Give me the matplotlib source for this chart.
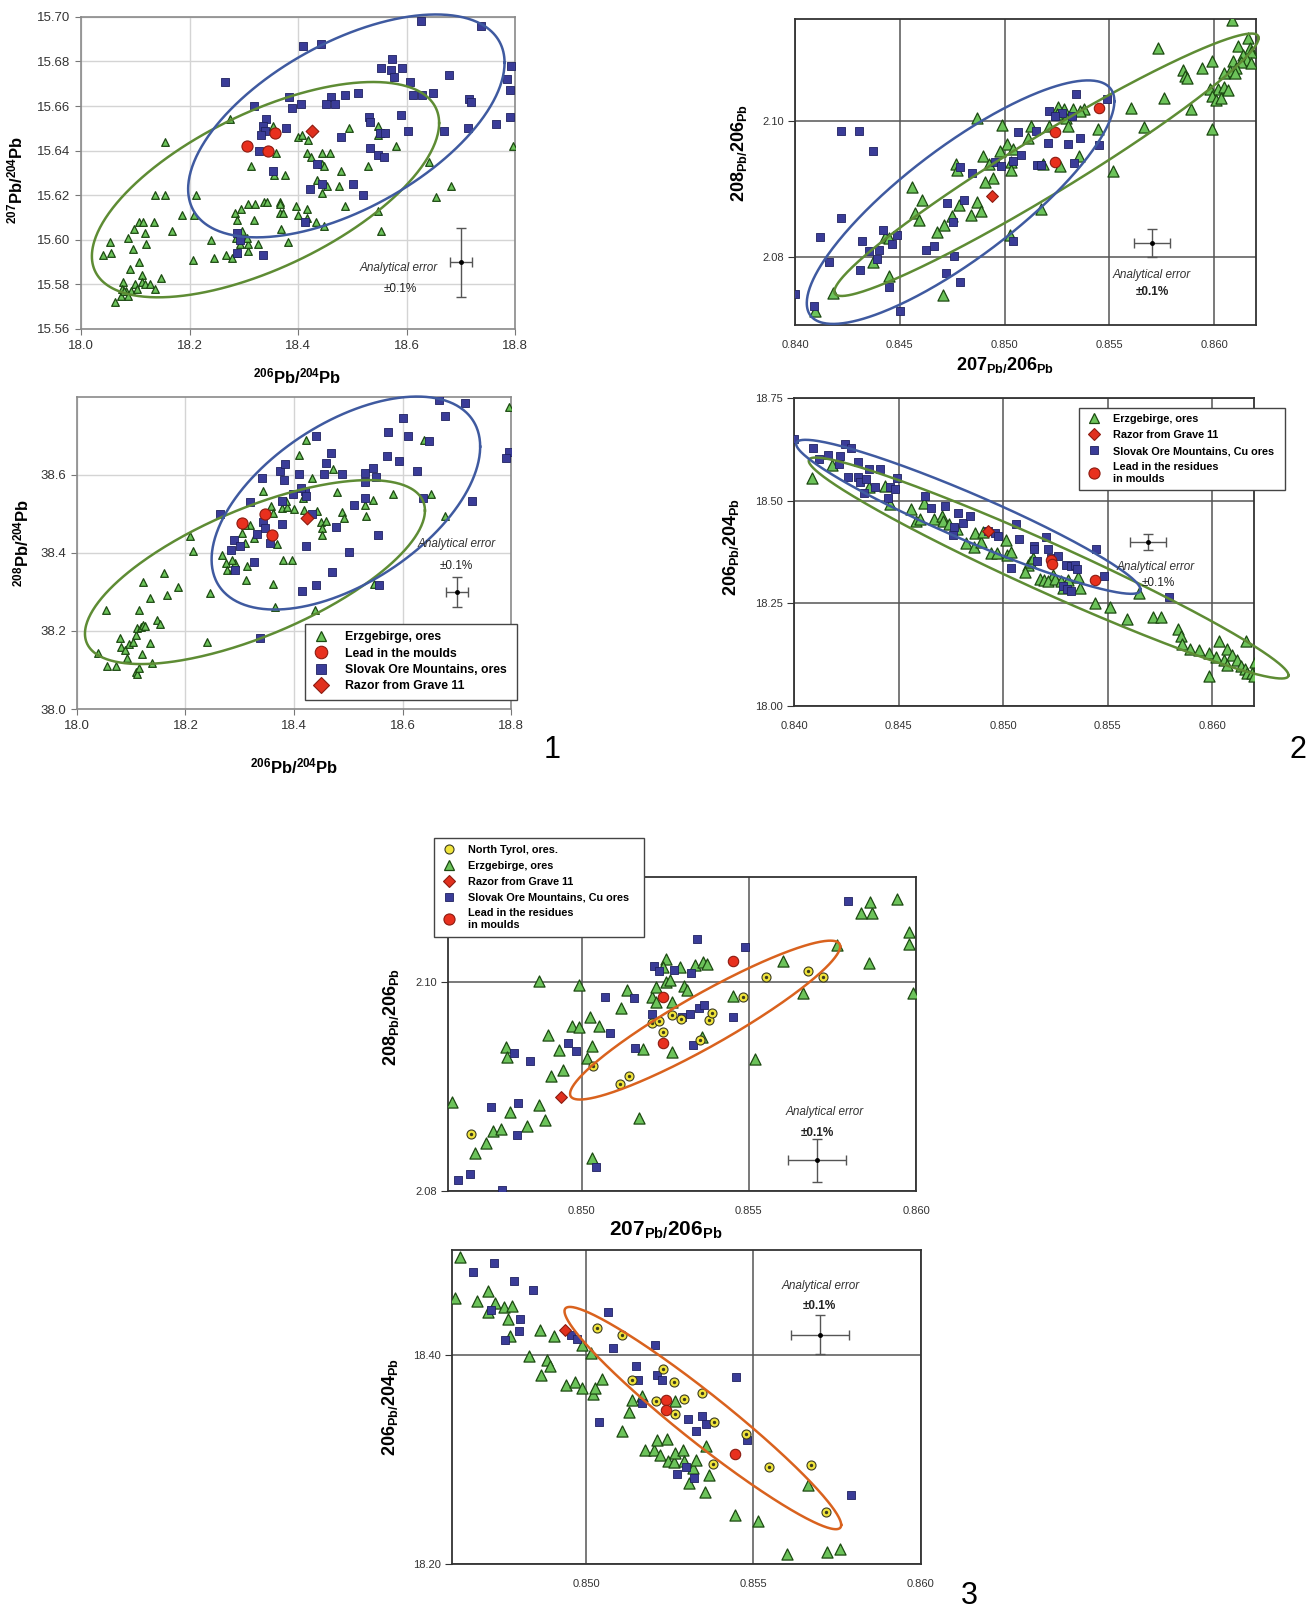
import numpy as np
import matplotlib.pyplot as plt
from matplotlib.lines import Line2D

plt.rcParams['font.family'] = ['Liberation Sans', 'DejaVu Sans']
plt.rcParams['mathtext.fontset'] = 'custom'
plt.rcParams['mathtext.rm'] = 'Liberation Sans'
plt.rcParams['mathtext.bf'] = 'Liberation Sans:bold'
plt.rcParams['mathtext.it'] = 'Liberation Sans:italic'

# ---------------- data: panel 1a (206/204 vs 207/204) ----------------
p1a_erz_x = [18.274, 18.353, 18.360, 18.313, 18.356, 18.376, 18.154, 18.445, 18.459, 18.581, 18.796, 18.494,
             18.548, 18.548, 18.400, 18.407, 18.419, 18.416, 18.424, 18.445, 18.447, 18.434, 18.445, 18.454,
             18.476, 18.480, 18.528, 18.487, 18.548, 18.553, 18.654, 18.681, 18.642, 18.136, 18.155, 18.212,
             18.187, 18.209, 18.168, 18.240, 18.245, 18.267, 18.279, 18.284, 18.287, 18.294, 18.308, 18.318,
             18.320, 18.337, 18.343, 18.366, 18.366, 18.366, 18.373, 18.369, 18.381, 18.396, 18.400, 18.417,
             18.417, 18.433, 18.447, 18.327, 18.308, 18.293, 18.288, 18.286, 18.296, 18.307, 18.305, 18.207,
             18.040, 18.053, 18.055, 18.086, 18.097, 18.107, 18.114, 18.118, 18.119, 18.134, 18.095, 18.106,
             18.090, 18.078, 18.076, 18.074, 18.082, 18.093, 18.100, 18.103, 18.113, 18.113, 18.117, 18.128,
             18.136, 18.148, 18.062, 18.080, 18.087]
p1a_erz_y = [15.654, 15.651, 15.639, 15.633, 15.629, 15.629, 15.644, 15.639, 15.639, 15.642, 15.642, 15.650,
             15.651, 15.647, 15.646, 15.647, 15.645, 15.639, 15.637, 15.634, 15.633, 15.627, 15.621, 15.624,
             15.624, 15.631, 15.633, 15.615, 15.613, 15.604, 15.619, 15.624, 15.635, 15.620, 15.620, 15.620,
             15.611, 15.611, 15.604, 15.600, 15.592, 15.593, 15.592, 15.612, 15.609, 15.614, 15.616, 15.609,
             15.616, 15.617, 15.617, 15.617, 15.616, 15.612, 15.612, 15.605, 15.599, 15.615, 15.611, 15.610,
             15.614, 15.608, 15.606, 15.598, 15.595, 15.598, 15.594, 15.601, 15.604, 15.598, 15.601, 15.591,
             15.593, 15.599, 15.594, 15.601, 15.605, 15.608, 15.608, 15.603, 15.598, 15.608, 15.596, 15.590,
             15.587, 15.581, 15.578, 15.575, 15.577, 15.577, 15.580, 15.578, 15.584, 15.581, 15.580, 15.580,
             15.578, 15.583, 15.572, 15.577, 15.575]
p1a_slov_x = [18.265, 18.319, 18.409, 18.442, 18.626, 18.737, 18.553, 18.573, 18.572, 18.576, 18.592, 18.606,
              18.611, 18.628, 18.649, 18.679, 18.793, 18.786, 18.791, 18.791, 18.765, 18.713, 18.715, 18.718,
              18.669, 18.602, 18.589, 18.511, 18.487, 18.461, 18.469, 18.451, 18.383, 18.388, 18.406, 18.377,
              18.341, 18.335, 18.339, 18.331, 18.328, 18.354, 18.531, 18.533, 18.551, 18.561, 18.532, 18.548,
              18.558, 18.479, 18.435, 18.422, 18.445, 18.501, 18.520, 18.413, 18.288, 18.293, 18.287, 18.336]
p1a_slov_y = [15.671, 15.660, 15.687, 15.688, 15.698, 15.696, 15.677, 15.681, 15.676, 15.673, 15.677, 15.671,
              15.665, 15.665, 15.666, 15.674, 15.678, 15.672, 15.667, 15.655, 15.652, 15.650, 15.663, 15.662,
              15.649, 15.649, 15.656, 15.666, 15.665, 15.664, 15.661, 15.661, 15.664, 15.659, 15.661, 15.650,
              15.654, 15.651, 15.649, 15.647, 15.640, 15.631, 15.655, 15.653, 15.648, 15.648, 15.641, 15.638,
              15.637, 15.646, 15.634, 15.623, 15.625, 15.625, 15.620, 15.608, 15.603, 15.600, 15.594, 15.593]
p1a_mould_x = [18.305, 18.345, 18.357]
p1a_mould_y = [15.642, 15.640, 15.648]
p1a_razor_x = [18.425]
p1a_razor_y = [15.649]

# ---------------- data: panel 1b (206/204 vs 208/204) ----------------
p1b_erz_x = [18.796, 18.423, 18.639, 18.409, 18.472, 18.434, 18.343, 18.357, 18.377, 18.388, 18.385, 18.417,
             18.479, 18.582, 18.653, 18.545, 18.531, 18.533, 18.488, 18.492, 18.442, 18.449, 18.452, 18.459,
             18.451, 18.418, 18.400, 18.362, 18.368, 18.326, 18.319, 18.309, 18.305, 18.310, 18.313, 18.311,
             18.268, 18.274, 18.277, 18.288, 18.291, 18.285, 18.361, 18.380, 18.397, 18.365, 18.439, 18.678,
             18.548, 18.209, 18.214, 18.245, 18.239, 18.186, 18.166, 18.160, 18.135, 18.121, 18.114, 18.147,
             18.153, 18.053, 18.039, 18.056, 18.072, 18.080, 18.082, 18.089, 18.093, 18.096, 18.103, 18.109,
             18.111, 18.118, 18.122, 18.126, 18.135, 18.138, 18.120, 18.109, 18.111, 18.114]
p1b_erz_y = [38.773, 38.690, 38.690, 38.651, 38.616, 38.593, 38.560, 38.521, 38.515, 38.518, 38.533, 38.542,
             38.557, 38.552, 38.552, 38.537, 38.524, 38.496, 38.504, 38.489, 38.507, 38.479, 38.464, 38.481,
             38.445, 38.511, 38.512, 38.503, 38.423, 38.438, 38.472, 38.472, 38.450, 38.425, 38.367, 38.330,
             38.396, 38.374, 38.356, 38.359, 38.374, 38.382, 38.320, 38.381, 38.382, 38.262, 38.253, 38.494,
             38.321, 38.443, 38.405, 38.297, 38.171, 38.313, 38.292, 38.348, 38.284, 38.325, 38.254, 38.229,
             38.218, 38.253, 38.143, 38.109, 38.111, 38.181, 38.160, 38.150, 38.130, 38.166, 38.173, 38.190,
             38.207, 38.211, 38.215, 38.212, 38.170, 38.119, 38.140, 38.094, 38.090, 38.104]
p1b_slov_x = [18.668, 18.715, 18.678, 18.600, 18.574, 18.611, 18.648, 18.797, 18.791, 18.441, 18.468, 18.459,
              18.572, 18.594, 18.627, 18.728, 18.638, 18.546, 18.551, 18.531, 18.531, 18.531, 18.511, 18.488,
              18.455, 18.410, 18.382, 18.374, 18.383, 18.341, 18.319, 18.342, 18.347, 18.332, 18.289, 18.284,
              18.291, 18.326, 18.378, 18.378, 18.421, 18.413, 18.422, 18.399, 18.434, 18.422, 18.478, 18.502,
              18.470, 18.441, 18.414, 18.555, 18.557, 18.337, 18.264, 18.355, 18.301]
p1b_slov_y = [38.791, 38.785, 38.751, 38.745, 38.709, 38.699, 38.687, 38.658, 38.643, 38.700, 38.656, 38.631,
              38.649, 38.637, 38.609, 38.532, 38.541, 38.617, 38.596, 38.604, 38.582, 38.542, 38.522, 38.602,
              38.603, 38.603, 38.586, 38.609, 38.629, 38.592, 38.530, 38.479, 38.463, 38.449, 38.432, 38.408,
              38.356, 38.378, 38.474, 38.534, 38.559, 38.566, 38.547, 38.552, 38.500, 38.417, 38.467, 38.403,
              38.352, 38.317, 38.303, 38.445, 38.317, 38.181, 38.499, 38.425, 38.419]
p1b_mould_x = [18.305, 18.346, 18.360]
p1b_mould_y = [38.477, 38.501, 38.445]
p1b_razor_x = [18.424]
p1b_razor_y = [38.489]

# ---------------- data: panel 2a (207/206 vs 208/206) ----------------
p2a_erz_x = [0.86084, 0.85731, 0.86163, 0.86115, 0.86173, 0.86176, 0.86139, 0.86158, 0.86130, 0.86176, 0.86089,
             0.86106, 0.86074, 0.86098, 0.86046, 0.85991, 0.85944, 0.85851, 0.85861, 0.85870, 0.85981, 0.86019,
             0.86046, 0.85991, 0.86009, 0.86032, 0.86065, 0.85762, 0.85889, 0.85991, 0.85666, 0.85601, 0.85517,
             0.85448, 0.85378, 0.85328, 0.85359, 0.85285, 0.85257, 0.85294, 0.85304, 0.85211, 0.85248, 0.85127,
             0.85112, 0.85183, 0.85356, 0.85266, 0.85012, 0.84988, 0.84979, 0.85040, 0.85032, 0.85029, 0.84945,
             0.84908, 0.84895, 0.84928, 0.84769, 0.84774, 0.84869, 0.84557, 0.84605, 0.84572, 0.84591, 0.84678,
             0.84709, 0.84750, 0.84784, 0.84839, 0.84867, 0.84886, 0.85025, 0.85174, 0.84427, 0.84449, 0.84371,
             0.84446, 0.84180, 0.84708, 0.84093]
p2a_erz_y = [2.11481, 2.11078, 2.11223, 2.11102, 2.11078, 2.11019, 2.10971, 2.10898, 2.10874, 2.10859, 2.10883,
             2.10777, 2.10738, 2.10704, 2.10704, 2.10883, 2.10786, 2.10752, 2.10655, 2.10631, 2.10476, 2.10476,
             2.10495, 2.10364, 2.10316, 2.10340, 2.10461, 2.10340, 2.10170, 2.09879, 2.09913, 2.10194, 2.09262,
             2.09879, 2.10170, 2.10170, 2.10146, 2.10170, 2.10204, 2.10039, 2.09927, 2.09927, 2.10097, 2.09927,
             2.09757, 2.09369, 2.09490, 2.09345, 2.09660, 2.09942, 2.09563, 2.09587, 2.09393, 2.09272, 2.09165,
             2.09107, 2.09490, 2.09369, 2.09369, 2.09272, 2.10049, 2.09029, 2.08845, 2.08641, 2.08544, 2.08364,
             2.08466, 2.08602, 2.08762, 2.08617, 2.08811, 2.08670, 2.08325, 2.08699, 2.08291, 2.08272, 2.07932,
             2.07718, 2.07476, 2.07447, 2.07209]
p2a_slov_x = [0.84000, 0.84091, 0.84119, 0.84162, 0.84219, 0.84219, 0.84306, 0.84370, 0.84319, 0.84310, 0.84351,
              0.84390, 0.84403, 0.84418, 0.84464, 0.84487, 0.84446, 0.84500, 0.84626, 0.84663, 0.84724, 0.84758,
              0.84721, 0.84752, 0.84786, 0.84804, 0.84787, 0.84843, 0.84956, 0.84981, 0.85038, 0.85066, 0.85079,
              0.85040, 0.85157, 0.85174, 0.85207, 0.85214, 0.85150, 0.85272, 0.85302, 0.85324, 0.85333, 0.85343,
              0.85361, 0.85452, 0.85487, 0.85242]
p2a_slov_y = [2.07451, 2.07272, 2.08291, 2.07927, 2.08578, 2.09854, 2.09854, 2.09553, 2.08238, 2.07801, 2.08083,
              2.07971, 2.08107, 2.08398, 2.08189, 2.08330, 2.07563, 2.07209, 2.08107, 2.08155, 2.08796, 2.08010,
              2.07757, 2.08519, 2.07631, 2.08845, 2.09320, 2.09238, 2.09403, 2.09335, 2.09417, 2.09840, 2.09505,
              2.08228, 2.09359, 2.09354, 2.09670, 2.10146, 2.09854, 2.10121, 2.09660, 2.10068, 2.09383, 2.10398,
              2.09757, 2.09650, 2.10325, 2.10078]
p2a_mould_x = [0.85242, 0.85239, 0.85452]
p2a_mould_y = [2.09840, 2.09403, 2.10189]
p2a_razor_x = [0.84940]
p2a_razor_y = [2.08893]

# ---------------- data: panel 2b (207/206 vs 206/204) ----------------
p2b_erz_x = [0.84085, 0.84180, 0.84361, 0.84435, 0.84457, 0.84561, 0.84620, 0.84583, 0.84602, 0.84672, 0.84707,
             0.84713, 0.84743, 0.84781, 0.84824, 0.84865, 0.84863, 0.84894, 0.84904, 0.84941, 0.84969, 0.85013,
             0.85020, 0.85039, 0.85120, 0.85130, 0.85143, 0.85107, 0.85176, 0.85198, 0.85239, 0.85213, 0.85250,
             0.85278, 0.85287, 0.85311, 0.85357, 0.85369, 0.85439, 0.85513, 0.85593, 0.85717, 0.85754, 0.85835,
             0.85852, 0.85857, 0.85894, 0.85935, 0.85983, 0.85987, 0.86031, 0.86019, 0.86059, 0.86072, 0.86093,
             0.86120, 0.86139, 0.86157, 0.86161, 0.86167, 0.86191, 0.86207, 0.86200, 0.86070, 0.85652]
p2b_erz_y = [18.555, 18.586, 18.533, 18.536, 18.491, 18.479, 18.493, 18.450, 18.456, 18.456, 18.462, 18.450,
             18.444, 18.431, 18.397, 18.420, 18.387, 18.399, 18.423, 18.373, 18.373, 18.405, 18.368, 18.375,
             18.343, 18.350, 18.360, 18.327, 18.309, 18.307, 18.320, 18.303, 18.309, 18.303, 18.288, 18.307,
             18.315, 18.286, 18.250, 18.242, 18.211, 18.216, 18.216, 18.188, 18.170, 18.152, 18.139, 18.135,
             18.128, 18.073, 18.159, 18.120, 18.112, 18.138, 18.123, 18.113, 18.097, 18.090, 18.157, 18.079,
             18.079, 18.108, 18.073, 18.099, 18.276]
p2b_slov_x = [0.84000, 0.84089, 0.84119, 0.84161, 0.84219, 0.84217, 0.84243, 0.84274, 0.84259, 0.84306, 0.84306,
              0.84315, 0.84346, 0.84333, 0.84361, 0.84389, 0.84411, 0.84450, 0.84457, 0.84485, 0.84494, 0.84626,
              0.84657, 0.84722, 0.84763, 0.84783, 0.84806, 0.84843, 0.84926, 0.84963, 0.84978, 0.85061, 0.85076,
              0.85039, 0.85148, 0.85150, 0.85163, 0.85207, 0.85213, 0.85228, 0.85263, 0.85287, 0.85300, 0.85324,
              0.85343, 0.85356, 0.85306, 0.85324, 0.85444, 0.85481, 0.85793, 0.84759]
p2b_slov_y = [18.650, 18.629, 18.602, 18.612, 18.608, 18.589, 18.637, 18.627, 18.558, 18.558, 18.594, 18.546,
              18.552, 18.519, 18.578, 18.534, 18.576, 18.506, 18.532, 18.529, 18.554, 18.511, 18.481, 18.488,
              18.436, 18.470, 18.446, 18.462, 18.426, 18.420, 18.415, 18.443, 18.407, 18.336, 18.389, 18.381,
              18.352, 18.412, 18.381, 18.360, 18.364, 18.291, 18.342, 18.340, 18.344, 18.333, 18.285, 18.281,
              18.381, 18.317, 18.265, 18.417]
p2b_mould_x = [0.85231, 0.85235, 0.85441]
p2b_mould_y = [18.356, 18.346, 18.307]
p2b_razor_x = [0.84928]
p2b_razor_y = [18.425]

# ---------------- data: panel 3a (207/206 vs 208/206) ----------------
p3a_tyrol_x = [0.84669, 0.85035, 0.85114, 0.85141, 0.85210, 0.85232, 0.85243, 0.85269, 0.85297, 0.85382, 0.85389,
               0.85482, 0.85552, 0.85676, 0.85722, 0.85354]
p3a_tyrol_y = [2.08549, 2.09196, 2.09027, 2.09100, 2.09601, 2.09627, 2.09522, 2.09678, 2.09640, 2.09630, 2.09697,
               2.09856, 2.10041, 2.10105, 2.10041, 2.09442]
p3a_erz_x = [0.84613, 0.84680, 0.84714, 0.84733, 0.84759, 0.84785, 0.84773, 0.84777, 0.84836, 0.84872, 0.84890,
             0.84872, 0.84898, 0.84909, 0.84931, 0.84943, 0.84970, 0.84993, 0.84993, 0.85024, 0.85031, 0.85015,
             0.85032, 0.85053, 0.85117, 0.85135, 0.85172, 0.85182, 0.85209, 0.85221, 0.85222, 0.85253, 0.85243,
             0.85252, 0.85265, 0.85270, 0.85271, 0.85294, 0.85307, 0.85314, 0.85338, 0.85362, 0.85376, 0.85360,
             0.85451, 0.85517, 0.85602, 0.85663, 0.85762, 0.85836, 0.85867, 0.85862, 0.85943, 0.85980, 0.85980,
             0.85859, 0.85991]
p3a_erz_y = [2.08852, 2.08364, 2.08459, 2.08571, 2.08596, 2.08756, 2.09378, 2.09282, 2.08619, 2.08820, 2.08676,
             2.10003, 2.09490, 2.09097, 2.09352, 2.09161, 2.09576, 2.09563, 2.09965, 2.09659, 2.09384, 2.09270,
             2.08316, 2.09579, 2.09745, 2.09920, 2.08699, 2.09356, 2.09856, 2.09952, 2.09809, 2.10214, 2.10144,
             2.10000, 2.10016, 2.09809, 2.09324, 2.10144, 2.09959, 2.09920, 2.10159, 2.10188, 2.10169, 2.09474,
             2.09866, 2.09257, 2.10198, 2.09888, 2.10351, 2.10660, 2.10654, 2.10766, 2.10788, 2.10478, 2.10360,
             2.10175, 2.09895]
p3a_slov_x = [0.84631, 0.84666, 0.84728, 0.84761, 0.84807, 0.84810, 0.84797, 0.84845, 0.84959, 0.84983, 0.85069,
              0.85084, 0.85155, 0.85158, 0.85215, 0.85232, 0.85276, 0.85326, 0.85346, 0.85324, 0.85351, 0.85365,
              0.85334, 0.85451, 0.85487, 0.85797, 0.85042, 0.85209, 0.85299]
p3a_slov_y = [2.08108, 2.08159, 2.08804, 2.08006, 2.08533, 2.08845, 2.09321, 2.09244, 2.09410, 2.09340, 2.09850,
              2.09512, 2.09841, 2.09368, 2.10153, 2.10105, 2.10112, 2.10080, 2.10408, 2.09691, 2.09745, 2.09774,
              2.09394, 2.09665, 2.10332, 2.10772, 2.08230, 2.09691, 2.09665]
p3a_mould_x = [0.85244, 0.85242, 0.85451]
p3a_mould_y = [2.09850, 2.09416, 2.10201]
p3a_razor_x = [0.84938]
p3a_razor_y = [2.08900]

# ---------------- data: panel 3b (207/206 vs 206/204) ----------------
p3b_tyrol_x = [0.85033, 0.85109, 0.85136, 0.85229, 0.85262, 0.85210, 0.85293, 0.85346, 0.85383, 0.85267, 0.85379,
               0.85477, 0.85547, 0.85671, 0.85718]
p3b_tyrol_y = [18.4255, 18.4185, 18.3758, 18.3860, 18.3735, 18.3560, 18.3576, 18.3636, 18.3356, 18.3435, 18.2957,
               18.3241, 18.2925, 18.2947, 18.2494]
p3b_erz_x = [0.84624, 0.84608, 0.84674, 0.84707, 0.84707, 0.84727, 0.84755, 0.84779, 0.84768, 0.84773, 0.84829,
             0.84864, 0.84884, 0.84893, 0.84865, 0.84904, 0.84939, 0.84967, 0.84987, 0.84989, 0.85014, 0.85020,
             0.85028, 0.85048, 0.85108, 0.85130, 0.85138, 0.85167, 0.85177, 0.85204, 0.85213, 0.85221, 0.85241,
             0.85245, 0.85263, 0.85267, 0.85266, 0.85290, 0.85293, 0.85309, 0.85320, 0.85330, 0.85357, 0.85355,
             0.85368, 0.85444, 0.85514, 0.85599, 0.85663, 0.85720, 0.85757]
p3b_erz_y = [18.4931, 18.4542, 18.4510, 18.4606, 18.4405, 18.4494, 18.4456, 18.4463, 18.4345, 18.4175, 18.3984,
             18.4239, 18.3952, 18.3888, 18.3809, 18.4175, 18.3707, 18.3738, 18.3681, 18.4096, 18.4016, 18.3627,
             18.3681, 18.3767, 18.3266, 18.3448, 18.3563, 18.3608, 18.3085, 18.3091, 18.3180, 18.3043, 18.3193,
             18.2979, 18.2973, 18.3553, 18.3059, 18.3091, 18.2979, 18.2772, 18.2915, 18.2989, 18.3129, 18.2683,
             18.2852, 18.2469, 18.2415, 18.2093, 18.2750, 18.2118, 18.2140]
p3b_slov_x = [0.84662, 0.84726, 0.84786, 0.84843, 0.84716, 0.84803, 0.84799, 0.84759, 0.84954, 0.84972, 0.85065,
              0.85080, 0.85207, 0.85149, 0.85156, 0.85166, 0.85213, 0.85227, 0.85040, 0.85304, 0.85346, 0.85359,
              0.85329, 0.85298, 0.85271, 0.85322, 0.85449, 0.85482, 0.85791]
p3b_slov_y = [18.4794, 18.4877, 18.4702, 18.4616, 18.4424, 18.4345, 18.4230, 18.4137, 18.4191, 18.4150, 18.4411,
              18.4064, 18.4093, 18.3888, 18.3761, 18.3537, 18.3809, 18.3761, 18.3356, 18.3388, 18.3416, 18.3340,
              18.3273, 18.2922, 18.2858, 18.2826, 18.3783, 18.3187, 18.2657]
p3b_mould_x = [0.85238, 0.85239, 0.85446]
p3b_mould_y = [18.3569, 18.3467, 18.3046]
p3b_razor_x = [0.84936]
p3b_razor_y = [18.4239]

# field ellipses: centre x, centre y, half-width, half-height, phase (deg)
ell_1a_erz = [18.340, 15.6225, 0.320, 0.0483, 51.8]
ell_1a_slov = [18.489, 15.6511, 0.2916, 0.0500, 55.5]
ell_1b_erz = [18.328, 38.351, 0.3133, 0.2358, 48.0]
ell_1b_slov = [18.4956, 38.528, 0.2475, 0.273, 58.0]
ell_2a_erz = [0.8520, 2.09356, 0.010125, 0.0193, 15.0]
ell_2a_slov = [0.8479, 2.08806, 0.00734, 0.01791, 34.0]
ell_2b_erz = [0.85218, 18.3358, 0.011475, 0.269, 166.0]
ell_2b_slov = [0.84834, 18.4605, 0.008237, 0.1875, 161.0]
ell_3a_tyrol = [0.85369, 2.09633, 0.00404, 0.00759, 22.0]
ell_3b_tyrol = [0.85349, 18.3394, 0.00413, 0.1062, 164.0]

# analytical error crosses: x, y, xerr, yerr
err_1a = [18.70, 15.590, 0.020, 0.0155]
err_1b = [18.70, 38.300, 0.020, 0.039]
err_2a = [0.85703, 2.08204, 0.00087, 0.0021]
err_2b = [0.85694, 18.3995, 0.00086, 0.020]
err_3a = [0.85704, 2.08293, 0.00086, 0.00207]
err_3b = [0.85698, 18.4191, 0.00087, 0.0188]

# ---------------- styles ----------------
TRI = dict(marker='^', facecolor='#6cc35a', edgecolor='#1d4a12', linewidths=0.9)
SQ = dict(marker='s', facecolor='#3a3c98', edgecolor='#1f2160', linewidths=0.6)
RED = dict(marker='o', facecolor='#e8301e', edgecolor='#8c1b10', linewidths=0.8)
DIA = dict(marker='D', facecolor='#e0301e', edgecolor='#8c1b10', linewidths=0.8)
YEL = dict(marker='o', facecolor='#f0e43c', edgecolor='#3c3c1e', linewidths=0.8)
GREEN_L = '#5e8c34'
BLUE_L = '#3f5aa0'
ORANGE_L = '#d9621e'


def pts(ax, x, y, style, size, z=3):
    ax.scatter(x, y, s=size ** 2, zorder=z, **style)


def ring(ax, p, color):
    cx, cy, rx, ry, phi = p
    t = np.linspace(0, 2 * np.pi, 400)
    ax.plot(cx + rx * np.cos(t), cy + ry * np.cos(t - np.radians(phi)),
            color=color, lw=1.8, zorder=5, clip_on=False)


def cross(ax, e, txt_xy, pct_xy, pct_bold=False):
    ax.errorbar([e[0]], [e[1]], xerr=[e[2]], yerr=[e[3]], fmt='o', ms=2.5, color='k',
                ecolor='#555555', elinewidth=1.0, capsize=3.5, capthick=1.0, zorder=6)
    ax.text(txt_xy[0], txt_xy[1], 'Analytical error', style='italic', fontsize=8.5,
            color='#333333', ha='center', va='center', zorder=6)
    ax.text(pct_xy[0], pct_xy[1], '±0.1%', fontsize=8.5, color='#222222', ha='center', va='center',
            fontweight='bold' if pct_bold else 'normal', zorder=6)


def light_frame(ax):
    ax.grid(True, color='#d4d4d4', lw=1.0)
    ax.set_axisbelow(True)
    for s in ax.spines.values():
        s.set_color('#8a8a8a')
        s.set_linewidth(1.2)
    ax.tick_params(direction='out', length=4, color='#777777', labelsize=9.5, labelcolor='#333333', pad=4)


def dark_frame(ax):
    ax.grid(True, color='#555555', lw=1.1)
    ax.set_axisbelow(True)
    for s in ax.spines.values():
        s.set_color('#333333')
        s.set_linewidth(1.3)
    ax.tick_params(axis='y', direction='out', length=5, color='#333333', labelsize=8, labelcolor='#333333', pad=3)
    ax.tick_params(axis='x', length=0, labelsize=8, labelcolor='#333333', pad=11)


def handle(style, size):
    return Line2D([], [], ls='none', marker=style['marker'], markersize=size,
                  markerfacecolor=style['facecolor'], markeredgecolor=style['edgecolor'],
                  markeredgewidth=style['linewidths'])


def legend(ax, items, box, fs, tpad, gap):
    hs = [handle(st, sz) for st, sz, _ in items]
    lg = ax.legend(hs, [lb for _, _, lb in items], loc='upper left', bbox_to_anchor=box, mode='expand',
                   fancybox=False, framealpha=1, edgecolor='#444444', borderpad=0.6,
                   labelspacing=gap, handlelength=1.5, handletextpad=tpad, borderaxespad=0,
                   prop={'weight': 'bold', 'size': fs})
    lg.get_frame().set_linewidth(1.0)
    lg.set_zorder(8)


fig = plt.figure(figsize=(13.07, 16.11), dpi=100)

lab_206_204 = r'$^{\mathbf{206}}\mathbf{Pb/}^{\mathbf{204}}\mathbf{Pb}$'
lab_207_204 = r'$^{\mathbf{207}}\mathbf{Pb/}^{\mathbf{204}}\mathbf{Pb}$'
lab_208_204 = r'$^{\mathbf{208}}\mathbf{Pb/}^{\mathbf{204}}\mathbf{Pb}$'
lab_207_206 = r'$\mathbf{207}_{\mathbf{Pb/}}\mathbf{206}_{\mathbf{Pb}}$'
lab_208_206 = r'$\mathbf{208}_{\mathbf{Pb/}}\mathbf{206}_{\mathbf{Pb}}$'
lab_206_204b = r'$\mathbf{206}_{\mathbf{Pb/}}\mathbf{204}_{\mathbf{Pb}}$'

# ---- panel 1a ----
ax = fig.add_axes([0.0620, 0.7958, 0.3321, 0.1937])
light_frame(ax)
pts(ax, p1a_erz_x, p1a_erz_y, TRI, 5.5)
pts(ax, p1a_slov_x, p1a_slov_y, SQ, 5.5)
pts(ax, p1a_mould_x, p1a_mould_y, RED, 8, 4)
pts(ax, p1a_razor_x, p1a_razor_y, DIA, 6.5, 4)
ring(ax, ell_1a_erz, GREEN_L)
ring(ax, ell_1a_slov, BLUE_L)
cross(ax, err_1a, (18.586, 15.5874), (18.589, 15.578))
ax.set_xlim(18.0, 18.8)
ax.set_ylim(15.56, 15.70)
ax.set_xticks(np.arange(18.0, 18.81, 0.2))
ax.set_yticks(np.arange(15.56, 15.701, 0.02))
ax.xaxis.set_major_formatter('{x:.1f}')
ax.yaxis.set_major_formatter('{x:.2f}')
ax.set_xlabel(lab_206_204, fontsize=12, va='center')
ax.xaxis.set_label_coords(0.498, -0.151)
ax.set_ylabel(lab_207_204, fontsize=12, va='center')
ax.yaxis.set_label_coords(-0.152, 0.478)

# ---- panel 1b ----
ax = fig.add_axes([0.0589, 0.5599, 0.3321, 0.1937])
light_frame(ax)
pts(ax, p1b_erz_x, p1b_erz_y, TRI, 5.5)
pts(ax, p1b_slov_x, p1b_slov_y, SQ, 5.5)
pts(ax, p1b_mould_x, p1b_mould_y, RED, 8, 4)
pts(ax, p1b_razor_x, p1b_razor_y, DIA, 6.5, 4)
ring(ax, ell_1b_erz, GREEN_L)
ring(ax, ell_1b_slov, BLUE_L)
cross(ax, err_1b, (18.70, 38.423), (18.70, 38.366))
ax.set_xlim(18.0, 18.8)
ax.set_ylim(38.0, 38.8)
ax.set_xticks(np.arange(18.0, 18.81, 0.2))
ax.set_yticks([38.0, 38.2, 38.4, 38.6])
ax.xaxis.set_major_formatter('{x:.1f}')
ax.yaxis.set_major_formatter('{x:.1f}')
ax.set_xlabel(lab_206_204, fontsize=12, va='center')
ax.xaxis.set_label_coords(0.5, -0.183)
ax.set_ylabel(lab_208_204, fontsize=12, va='center')
ax.yaxis.set_label_coords(-0.129, 0.532)
legend(ax, [(TRI, 6.5, 'Erzgebirge, ores'), (RED, 9, 'Lead in the moulds'),
            (SQ, 6.5, 'Slovak Ore Mountains, ores'), (DIA, 8, 'Razor from Grave 11')],
       (0.525, 0.272, 0.489, 0.0), 8.8, 1.2, 0.35)

# ---- panel 2a ----
ax = fig.add_axes([0.6083, 0.7983, 0.3527, 0.1899])
dark_frame(ax)
pts(ax, p2a_erz_x, p2a_erz_y, TRI, 8)
pts(ax, p2a_slov_x, p2a_slov_y, SQ, 6)
pts(ax, p2a_mould_x, p2a_mould_y, RED, 7.5, 4)
pts(ax, p2a_razor_x, p2a_razor_y, DIA, 6, 4)
ring(ax, ell_2a_erz, GREEN_L)
ring(ax, ell_2a_slov, BLUE_L)
cross(ax, err_2a, (0.85703, 2.07728), (0.85703, 2.07485), True)
ax.set_xlim(0.840, 0.862)
ax.set_ylim(2.070, 2.115)
ax.set_xticks([0.840, 0.845, 0.850, 0.855, 0.860])
ax.set_yticks([2.08, 2.10])
ax.xaxis.set_major_formatter('{x:.3f}')
ax.yaxis.set_major_formatter('{x:.2f}')
ax.set_xlabel(lab_207_206, fontsize=13, va='center')
ax.xaxis.set_label_coords(0.456, -0.131)
ax.set_ylabel(lab_208_206, fontsize=13, va='center')
ax.yaxis.set_label_coords(-0.121, 0.562)

# ---- panel 2b ----
ax = fig.add_axes([0.6075, 0.5618, 0.3519, 0.1912])
dark_frame(ax)
pts(ax, p2b_erz_x, p2b_erz_y, TRI, 8)
pts(ax, p2b_slov_x, p2b_slov_y, SQ, 6)
pts(ax, p2b_mould_x, p2b_mould_y, RED, 7.5, 4)
pts(ax, p2b_razor_x, p2b_razor_y, DIA, 6, 4)
ring(ax, ell_2b_erz, GREEN_L)
ring(ax, ell_2b_slov, BLUE_L)
cross(ax, err_2b, (0.85731, 18.3375), (0.85741, 18.299))
ax.set_xlim(0.840, 0.862)
ax.set_ylim(18.00, 18.75)
ax.set_xticks([0.840, 0.845, 0.850, 0.855, 0.860])
ax.set_yticks([18.00, 18.25, 18.50, 18.75])
ax.xaxis.set_major_formatter('{x:.3f}')
ax.yaxis.set_major_formatter('{x:.2f}')
ax.set_ylabel(lab_206_204b, fontsize=13, va='center')
ax.yaxis.set_label_coords(-0.137, 0.516)
legend(ax, [(TRI, 7, 'Erzgebirge, ores'), (DIA, 6, 'Razor from Grave 11'),
            (SQ, 6, 'Slovak Ore Mountains, Cu ores'), (RED, 8, 'Lead in the residues\nin moulds')],
       (0.620, 0.968, 0.447, 0.0), 7.8, 1.0, 0.55)

# ---- panel 3a ----
ax = fig.add_axes([0.3428, 0.2607, 0.3581, 0.1949])
dark_frame(ax)
pts(ax, p3a_erz_x, p3a_erz_y, TRI, 8)
pts(ax, p3a_slov_x, p3a_slov_y, SQ, 6)
pts(ax, p3a_tyrol_x, p3a_tyrol_y, YEL, 6.5)
ax.scatter(p3a_tyrol_x, p3a_tyrol_y, s=2, color='#3c3c1e', zorder=3)
pts(ax, p3a_mould_x, p3a_mould_y, RED, 7.5, 4)
pts(ax, p3a_razor_x, p3a_razor_y, DIA, 6, 4)
ring(ax, ell_3a_tyrol, ORANGE_L)
cross(ax, err_3a, (0.85727, 2.08756), (0.85704, 2.08558), True)
ax.set_xlim(0.846, 0.860)
ax.set_ylim(2.08, 2.11)
ax.set_xticks([0.850, 0.855, 0.860])
ax.set_yticks([2.08, 2.10])
ax.xaxis.set_major_formatter('{x:.3f}')
ax.yaxis.set_major_formatter('{x:.2f}')
ax.set_xlabel(lab_207_206, fontsize=15, va='center')
ax.xaxis.set_label_coords(0.464, -0.124)
ax.set_ylabel(lab_208_206, fontsize=13, va='center')
ax.yaxis.set_label_coords(-0.122, 0.554)
legend(ax, [(YEL, 6.5, 'North Tyrol, ores.'), (TRI, 7, 'Erzgebirge, ores'), (DIA, 6, 'Razor from Grave 11'),
            (SQ, 6, 'Slovak Ore Mountains, Cu ores'), (RED, 8, 'Lead in the residues\nin moulds')],
       (-0.030, 1.124, 0.449, 0.0), 7.8, 1.0, 0.55)

# ---- panel 3b ----
ax = fig.add_axes([0.3458, 0.0292, 0.3588, 0.1949])
dark_frame(ax)
pts(ax, p3b_erz_x, p3b_erz_y, TRI, 8)
pts(ax, p3b_slov_x, p3b_slov_y, SQ, 6)
pts(ax, p3b_tyrol_x, p3b_tyrol_y, YEL, 6.5)
ax.scatter(p3b_tyrol_x, p3b_tyrol_y, s=2, color='#3c3c1e', zorder=3)
pts(ax, p3b_mould_x, p3b_mould_y, RED, 7.5, 4)
pts(ax, p3b_razor_x, p3b_razor_y, DIA, 6, 4)
ring(ax, ell_3b_tyrol, ORANGE_L)
cross(ax, err_3b, (0.85702, 18.4654), (0.85698, 18.4463), True)
ax.set_xlim(0.846, 0.860)
ax.set_ylim(18.20, 18.50)
ax.set_xticks([0.850, 0.855, 0.860])
ax.set_yticks([18.20, 18.40])
ax.xaxis.set_major_formatter('{x:.3f}')
ax.yaxis.set_major_formatter('{x:.2f}')
ax.set_ylabel(lab_206_204b, fontsize=13, va='center')
ax.yaxis.set_label_coords(-0.132, 0.5)

# panel numbers
fig.text(0.4223, 0.5345, '1', fontsize=22, ha='center', va='center')
fig.text(0.9931, 0.5345, '2', fontsize=22, ha='center', va='center')
fig.text(0.7414, 0.0093, '3', fontsize=22, ha='center', va='center')

fig.savefig('out.png', dpi=100)
